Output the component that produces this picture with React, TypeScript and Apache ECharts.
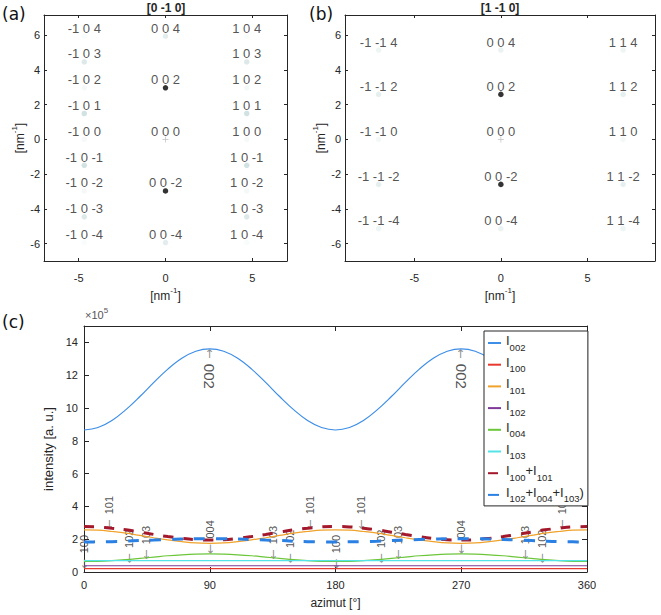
import React, { useEffect, useRef } from "react";
import * as echarts from "echarts";

const FONT = "'Liberation Sans', Arial, Helvetica, sans-serif";
const DJV = "'DejaVu Sans', Verdana, sans-serif";
const AX = "#262626";

// ---------------- Panel (a): zone axis [0 -1 0] ----------------
const aLabels = [
  "-1 0 4", "-1 0 3", "-1 0 2", "-1 0 1", "-1 0 0", "-1 0 -1", "-1 0 -2", "-1 0 -3", "-1 0 -4",
  "0 0 4", "0 0 2", "0 0 -2", "0 0 -4",
  "1 0 4", "1 0 3", "1 0 2", "1 0 1", "1 0 0", "1 0 -1", "1 0 -2", "1 0 -3", "1 0 -4",
];
const aQx = [
  -4.68, -4.68, -4.68, -4.68, -4.68, -4.68, -4.68, -4.68, -4.68,
  0, 0, 0, 0,
  4.68, 4.68, 4.68, 4.68, 4.68, 4.68, 4.68, 4.68, 4.68,
];
const aQz = [
  5.94, 4.46, 2.97, 1.49, 0, -1.49, -2.97, -4.46, -5.94,
  5.94, 2.97, -2.97, -5.94,
  5.94, 4.46, 2.97, 1.49, 0, -1.49, -2.97, -4.46, -5.94,
];
const aInt = [
  0.02, 0.12, 0.04, 0.16, 0.03, 0.16, 0.04, 0.12, 0.02,
  0.1, 1, 1, 0.1,
  0.02, 0.12, 0.04, 0.16, 0.03, 0.16, 0.04, 0.12, 0.02,
];
const aXTicks = [-5, 0, 5];
const aYTicks = [-6, -4, -2, 0, 2, 4, 6];

// ---------------- Panel (b): zone axis [1 -1 0] ----------------
const bLabels = [
  "-1 -1 4", "-1 -1 2", "-1 -1 0", "-1 -1 -2", "-1 -1 -4",
  "0 0 4", "0 0 2", "0 0 -2", "0 0 -4",
  "1 1 4", "1 1 2", "1 1 0", "1 1 -2", "1 1 -4",
];
const bQx = [-7.06, -7.06, -7.06, -7.06, -7.06, 0, 0, 0, 0, 7.06, 7.06, 7.06, 7.06, 7.06];
const bQz = [5.14, 2.59, 0, -2.59, -5.14, 5.14, 2.59, -2.59, -5.14, 5.14, 2.59, 0, -2.59, -5.14];
const bInt = [0.06, 0.09, 0.04, 0.09, 0.06, 0.07, 1, 1, 0.07, 0.06, 0.09, 0.04, 0.09, 0.06];
const bXTicks = [-5, 0, 5];
const bYTicks = [-6, -4, -2, 0, 2, 4, 6];

const originLabel = "0 0 0";

// ---------------- Panel (c): azimuthal intensity profiles (x 1e5) ----------------
const azimuth = [0, 10, 20, 30, 40, 50, 60, 70, 80, 90, 100, 110, 120, 130, 140, 150, 160, 170, 180,
  190, 200, 210, 220, 230, 240, 250, 260, 270, 280, 290, 300, 310, 320, 330, 340, 350, 360];
const I002 = [8.66, 8.81, 9.24, 9.90, 10.70, 11.56, 12.37, 13.03, 13.46, 13.61, 13.46, 13.03, 12.37, 11.56, 10.70, 9.90, 9.24, 8.81, 8.66,
  8.81, 9.24, 9.90, 10.70, 11.56, 12.37, 13.03, 13.46, 13.61, 13.46, 13.03, 12.37, 11.56, 10.70, 9.90, 9.24, 8.81, 8.66];
const I100 = [0.21, 0.21, 0.21, 0.21, 0.21, 0.21, 0.21, 0.21, 0.21, 0.21, 0.21, 0.21, 0.21, 0.21, 0.21, 0.21, 0.21, 0.21, 0.21,
  0.21, 0.21, 0.21, 0.21, 0.21, 0.21, 0.21, 0.21, 0.21, 0.21, 0.21, 0.21, 0.21, 0.21, 0.21, 0.21, 0.21, 0.21];
const I101 = [2.57, 2.55, 2.47, 2.37, 2.23, 2.09, 1.96, 1.85, 1.77, 1.75, 1.77, 1.85, 1.96, 2.09, 2.23, 2.37, 2.47, 2.55, 2.57,
  2.55, 2.47, 2.37, 2.23, 2.09, 1.96, 1.85, 1.77, 1.75, 1.77, 1.85, 1.96, 2.09, 2.23, 2.37, 2.47, 2.55, 2.57];
const I102 = [0.38, 0.38, 0.38, 0.38, 0.38, 0.38, 0.38, 0.38, 0.38, 0.38, 0.38, 0.38, 0.38, 0.38, 0.38, 0.38, 0.38, 0.38, 0.38,
  0.38, 0.38, 0.38, 0.38, 0.38, 0.38, 0.38, 0.38, 0.38, 0.38, 0.38, 0.38, 0.38, 0.38, 0.38, 0.38, 0.38, 0.38];
const I004 = [0.64, 0.65, 0.69, 0.75, 0.83, 0.91, 0.99, 1.05, 1.09, 1.10, 1.09, 1.05, 0.99, 0.91, 0.83, 0.75, 0.69, 0.65, 0.64,
  0.65, 0.69, 0.75, 0.83, 0.91, 0.99, 1.05, 1.09, 1.10, 1.09, 1.05, 0.99, 0.91, 0.83, 0.75, 0.69, 0.65, 0.64];
const I103 = [0.69, 0.69, 0.69, 0.69, 0.69, 0.69, 0.69, 0.69, 0.69, 0.69, 0.69, 0.69, 0.69, 0.69, 0.69, 0.69, 0.69, 0.69, 0.69,
  0.69, 0.69, 0.69, 0.69, 0.69, 0.69, 0.69, 0.69, 0.69, 0.69, 0.69, 0.69, 0.69, 0.69, 0.69, 0.69, 0.69, 0.69];
const I100p101 = [2.77, 2.75, 2.67, 2.57, 2.43, 2.29, 2.16, 2.05, 1.97, 1.95, 1.97, 2.05, 2.16, 2.29, 2.43, 2.57, 2.67, 2.75, 2.77,
  2.75, 2.67, 2.57, 2.43, 2.29, 2.16, 2.05, 1.97, 1.95, 1.97, 2.05, 2.16, 2.29, 2.43, 2.57, 2.67, 2.75, 2.77];
const I102p004p103 = [1.83, 1.84, 1.85, 1.88, 1.92, 1.95, 1.98, 2.01, 2.03, 2.03, 2.03, 2.01, 1.98, 1.95, 1.92, 1.88, 1.85, 1.84, 1.83,
  1.84, 1.85, 1.88, 1.92, 1.95, 1.98, 2.01, 2.03, 2.03, 2.03, 2.01, 1.98, 1.95, 1.92, 1.88, 1.85, 1.84, 1.83];
const seriesNames = ["I002", "I100", "I101", "I102", "I004", "I103", "I100+I101", "I102+I004+I103)"];
const cXTicks = [0, 90, 180, 270, 360];
const cYTicks = [0, 2, 4, 6, 8, 10, 12, 14];

// reflection annotations (azimuth, arrow tip value, text, rotation)
const annoAz = [0, 18, 32.5, 44.5, 90, 90, 135.5, 147.5, 162, 180, 198, 212.5, 224.5, 270, 270, 315.5, 327.5, 342];
const annoVal = [0.22, 2.6, 0.55, 0.78, 1.12, 13.61, 0.78, 0.55, 2.6, 0.22, 2.6, 0.55, 0.78, 1.12, 13.61, 0.78, 0.55, 2.6];
const annoText = ["100", "101", "102", "103", "004", "002", "103", "102", "101", "100", "101", "102", "103", "004", "002", "103", "102", "101"];
const annoRot = [90, 90, 90, 90, 90, -90, 90, 90, 90, 90, 90, 90, 90, 90, -90, 90, 90, 90];

// ---------------------------------------------------------------
function boneColor(t: number) {
  const x = 1 - t;
  const hr = Math.min(1, x / 0.375);
  const hg = Math.min(1, Math.max(0, (x - 0.375) / 0.375));
  const hb = Math.min(1, Math.max(0, (x - 0.75) / 0.25));
  const r = (7 * x + hb) / 8, g = (7 * x + hg) / 8, b = (7 * x + hr) / 8;
  return `rgb(${Math.round(r * 255)},${Math.round(g * 255)},${Math.round(b * 255)})`;
}

const nmName = "{b|[nm}{p|-1}{b|]}";
const nmStyle = {
  color: AX, fontFamily: FONT, fontSize: 12,
  rich: {
    b: { fontSize: 12, lineHeight: 16, verticalAlign: "bottom", color: AX, fontFamily: FONT },
    p: { fontSize: 8, lineHeight: 16, verticalAlign: "top", color: AX, fontFamily: FONT },
  },
};

function valueAxis(o: any) {
  return {
    type: "value", gridIndex: o.grid, position: o.pos, min: o.min, max: o.max,
    axisLine: { show: true, onZero: false, lineStyle: { color: AX, width: 1 } },
    axisTick: { show: true, inside: true, length: o.tickLen, customValues: o.ticks, lineStyle: { color: AX, width: 1 } },
    axisLabel: { show: o.labels, customValues: o.ticks, margin: o.margin ?? 8, color: AX, fontSize: 11, fontFamily: FONT },
    splitLine: { show: false },
    name: o.name, nameLocation: "middle", nameGap: o.nameGap, nameTextStyle: o.nameStyle,
  };
}

function pointSeries(labels: string[], qx: number[], qz: number[], inten: number[], xi: number) {
  return {
    type: "scatter", xAxisIndex: xi, yAxisIndex: xi, symbolSize: 5.5, clip: false, silent: true,
    data: labels.map((n, i) => ({ name: n, value: [qx[i], qz[i]], itemStyle: { color: boneColor(inten[i]) } })),
    label: { show: true, position: "inside", offset: [0, -8], formatter: "{b}", color: AX, fontSize: 13, fontFamily: FONT },
  };
}

function originSeries(xi: number) {
  return {
    type: "scatter", xAxisIndex: xi, yAxisIndex: xi, clip: false, silent: true,
    symbol: "path://M4.4,0H5.6V4.4H10V5.6H5.6V10H4.4V5.6H0V4.4H4.4Z", symbolSize: 6,
    itemStyle: { color: "#b0b0b0" },
    data: [{ name: originLabel, value: [0, 0] }],
    label: { show: true, position: "inside", offset: [0, -8], formatter: "{b}", color: AX, fontSize: 13, fontFamily: FONT },
  };
}

const lineDefs = [
  { data: I002, color: "#3d8ee6", width: 1.2, type: "solid" as any },
  { data: I100, color: "#e8392e", width: 1.2, type: "solid" },
  { data: I101, color: "#f0a22a", width: 1.2, type: "solid" },
  { data: I102, color: "#7e3a99", width: 1.2, type: "solid" },
  { data: I004, color: "#6cc63a", width: 1.2, type: "solid" },
  { data: I103, color: "#55e3e8", width: 1.2, type: "solid" },
  { data: I100p101, color: "#a3182a", width: 3, type: [10, 10] },
  { data: I102p004p103, color: "#2b80e3", width: 3, type: [11, 11] },
];

const legendRich: Record<string, string> = {
  "I002": "{m|I}{s|002}",
  "I100": "{m|I}{s|100}",
  "I101": "{m|I}{s|101}",
  "I102": "{m|I}{s|102}",
  "I004": "{m|I}{s|004}",
  "I103": "{m|I}{s|103}",
  "I100+I101": "{m|I}{s|100}{m|+I}{s|101}",
  "I102+I004+I103)": "{m|I}{s|102}{m|+I}{s|004}{m|+I}{s|103}{m|)}",
};

function buildOption() {
  const lines = lineDefs.map((d, k) => ({
    name: seriesNames[k], type: "line", xAxisIndex: 4, yAxisIndex: 4,
    data: azimuth.map((a, i) => [a, d.data[i]]),
    symbol: "none", showSymbol: false, smooth: 0.4, silent: true,
    itemStyle: { color: d.color },
    lineStyle: { color: d.color, width: d.width, type: d.type, cap: "butt" },
  }));

  const anno = {
    type: "scatter", xAxisIndex: 4, yAxisIndex: 4, symbolSize: 1, clip: false, silent: true,
    itemStyle: { color: "rgba(0,0,0,0)" },
    data: annoAz.map((a, i) => ({ value: [a, annoVal[i]], label: { rotate: annoRot[i] } })),
    label: {
      show: true, position: ["50%", "50%"], align: "left", verticalAlign: "middle",
      formatter: (p: any) => {
        const t = annoText[p.dataIndex];
        return annoRot[p.dataIndex] < 0 ? `{a|←}{T|${t}}` : `{a|←}{t|${t}}`;
      },
      rich: {
        a: { fontFamily: DJV, fontSize: 12, color: "#707070", padding: [0, 5, 0, 0] },
        t: { fontFamily: FONT, fontSize: 11, color: AX },
        T: { fontFamily: FONT, fontSize: 15, color: AX },
      },
    },
  };

  return {
    animation: false,
    backgroundColor: "#ffffff",
    grid: [
      { left: 44, top: 15, width: 243, height: 246 },
      { left: 345, top: 15, width: 310, height: 246 },
      { left: 84, top: 326, width: 503, height: 246 },
    ],
    xAxis: [
      valueAxis({ grid: 0, pos: "bottom", min: -7, max: 7, ticks: aXTicks, labels: true, tickLen: 3, margin: 11, name: nmName, nameGap: 25, nameStyle: nmStyle }),
      valueAxis({ grid: 0, pos: "top", min: -7, max: 7, ticks: aXTicks, labels: false, tickLen: 3 }),
      valueAxis({ grid: 1, pos: "bottom", min: -9, max: 8.9, ticks: bXTicks, labels: true, tickLen: 3, margin: 11, name: nmName, nameGap: 25, nameStyle: nmStyle }),
      valueAxis({ grid: 1, pos: "top", min: -9, max: 8.9, ticks: bXTicks, labels: false, tickLen: 3 }),
      valueAxis({ grid: 2, pos: "bottom", min: 0, max: 360, ticks: cXTicks, labels: true, tickLen: 5, margin: 7, name: "azimut [°]", nameGap: 25, nameStyle: { color: AX, fontFamily: FONT, fontSize: 12 } }),
      valueAxis({ grid: 2, pos: "top", min: 0, max: 360, ticks: cXTicks, labels: false, tickLen: 5 }),
    ],
    yAxis: [
      valueAxis({ grid: 0, pos: "left", min: -7, max: 7.16, ticks: aYTicks, labels: true, tickLen: 3, margin: 4, name: nmName, nameGap: 18, nameStyle: nmStyle }),
      valueAxis({ grid: 0, pos: "right", min: -7, max: 7.16, ticks: aYTicks, labels: false, tickLen: 3 }),
      valueAxis({ grid: 1, pos: "left", min: -7, max: 7.16, ticks: bYTicks, labels: true, tickLen: 3, margin: 4, name: nmName, nameGap: 18, nameStyle: nmStyle }),
      valueAxis({ grid: 1, pos: "right", min: -7, max: 7.16, ticks: bYTicks, labels: false, tickLen: 3 }),
      valueAxis({ grid: 2, pos: "left", min: 0, max: 15, ticks: cYTicks, labels: true, tickLen: 5, margin: 6, name: "intensity [a. u.]", nameGap: 21, nameStyle: { color: AX, fontFamily: FONT, fontSize: 13 } }),
      valueAxis({ grid: 2, pos: "right", min: 0, max: 15, ticks: cYTicks, labels: false, tickLen: 5 }),
    ],
    legend: {
      data: seriesNames, orient: "vertical", left: 484, top: 331,
      itemWidth: 13, itemHeight: 10, itemGap: 3.7, padding: [3, 4, 2, 3],
      borderColor: AX, borderWidth: 1, backgroundColor: "#ffffff", selectedMode: false,
      itemStyle: { opacity: 0 },
      formatter: (n: string) => legendRich[n] ?? n,
      textStyle: {
        color: AX, fontFamily: FONT, fontSize: 13,
        rich: {
          m: { fontSize: 13, lineHeight: 18, verticalAlign: "top", color: AX, fontFamily: FONT },
          s: { fontSize: 9.5, lineHeight: 18, verticalAlign: "bottom", color: AX, fontFamily: FONT },
        },
      },
    },
    graphic: [
      { type: "text", x: 2, y: 14, style: { text: "(a)", fontFamily: DJV, fontSize: 17, fill: "#111", textVerticalAlign: "middle", verticalAlign: "middle" } },
      { type: "text", x: 309, y: 14, style: { text: "(b)", fontFamily: DJV, fontSize: 17, fill: "#111", textVerticalAlign: "middle", verticalAlign: "middle" } },
      { type: "text", x: 2, y: 322, style: { text: "(c)", fontFamily: DJV, fontSize: 17, fill: "#111", textVerticalAlign: "middle", verticalAlign: "middle" } },
      { type: "text", x: 166, y: 8, style: { text: "[0 -1 0]", fontFamily: FONT, fontWeight: "bold", fontSize: 12, fill: AX, textAlign: "center", align: "center", textVerticalAlign: "middle", verticalAlign: "middle" } },
      { type: "text", x: 500, y: 8, style: { text: "[1 -1 0]", fontFamily: FONT, fontWeight: "bold", fontSize: 12, fill: AX, textAlign: "center", align: "center", textVerticalAlign: "middle", verticalAlign: "middle" } },
      {
        type: "text", x: 85, y: 313,
        style: {
          text: "{a|×10}{b|5}", textVerticalAlign: "middle", verticalAlign: "middle",
          rich: {
            a: { fontSize: 11, lineHeight: 14, verticalAlign: "bottom", fill: "#555", fontFamily: FONT },
            b: { fontSize: 8, lineHeight: 14, verticalAlign: "top", fill: "#555", fontFamily: FONT },
          },
        },
      },
    ],
    series: [
      pointSeries(aLabels, aQx, aQz, aInt, 0),
      originSeries(0),
      pointSeries(bLabels, bQx, bQz, bInt, 2),
      originSeries(2),
      ...lines,
      anno,
    ],
  };
}

export default function App() {
  const ref = useRef<HTMLDivElement>(null);
  useEffect(() => {
    const chart = echarts.init(ref.current!, null, { renderer: "svg" });
    chart.setOption(buildOption() as any);
    return () => chart.dispose();
  }, []);
  return <div ref={ref} style={{ position: "absolute", left: 0, top: 0, width: 661, height: 615 }} />;
}
